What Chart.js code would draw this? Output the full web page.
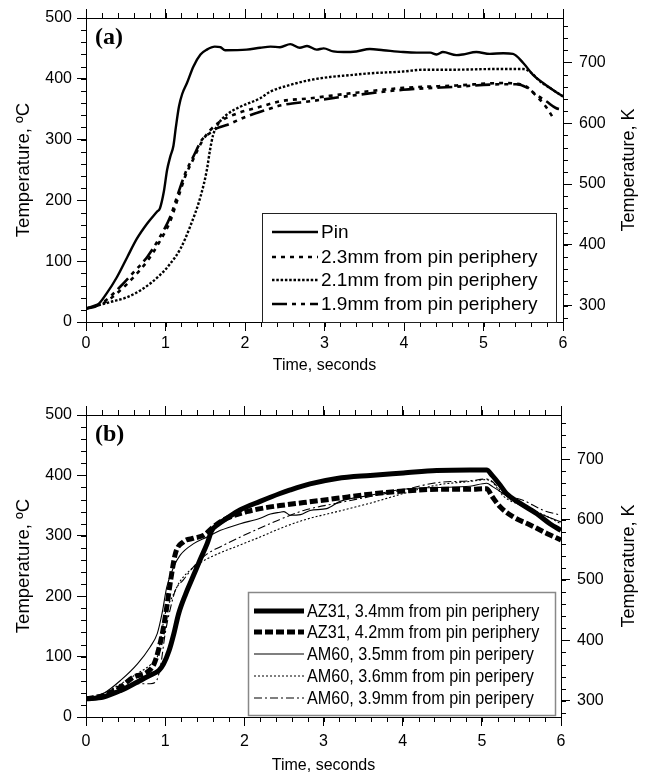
<!DOCTYPE html>
<html><head><meta charset="utf-8">
<script src="https://cdn.jsdelivr.net/npm/chart.js@4.4.1/dist/chart.umd.min.js"></script>
<style>
html,body{margin:0;padding:0;background:#fff;}
#wrap{position:relative;width:646px;height:774px;overflow:hidden;background:#fff;}
canvas{position:absolute;left:0;}
#ca{top:0;width:646px;height:387px;}
#cb{top:387px;width:646px;height:387px;}
</style></head><body>
<div id="wrap"><canvas id="ca" width="646" height="387"></canvas><canvas id="cb" width="646" height="387"></canvas></div>
<script>
// ---------- Panel (a) data: time (s) and temperature (°C) ----------
const tPin = [0, 0.14, 0.26, 0.39, 0.52, 0.64, 0.77, 0.89, 0.93, 0.98, 1.02, 1.06, 1.10, 1.13, 1.17, 1.21, 1.27, 1.35, 1.44, 1.52, 1.62, 1.69, 1.75, 2.02, 2.19, 2.32, 2.44, 2.57, 2.69, 2.78, 2.90, 2.99, 3.11, 3.24, 3.40, 3.57, 3.74, 3.99, 4.16, 4.33, 4.41, 4.49, 4.66, 4.74, 4.91, 5.08, 5.25, 5.37, 5.50, 5.62, 5.75, 5.87, 6.0];
const cPin = [22, 27, 47, 74, 107, 137, 162, 181, 187, 215, 250, 272, 290, 320, 355, 375, 393, 420, 440, 448, 453, 452, 447, 448, 451, 453, 452, 457, 451, 454, 448, 450, 445, 444, 445, 449, 447, 444, 443, 443, 440, 444, 439, 440, 444, 441, 442, 441, 426, 407, 393, 382, 371];

const t23 = [0, 0.22, 0.43, 0.60, 0.77, 0.93, 1.06, 1.16, 1.25, 1.35, 1.46, 1.56, 1.69, 1.90, 2.19, 2.44, 2.82, 3.32, 3.99, 4.66, 5.25, 5.41, 5.54, 5.67, 5.78, 5.88];
const c23 = [22, 31, 52, 74, 100, 133, 166, 205, 240, 268, 297, 315, 330, 343, 354, 363, 368, 376, 385, 389, 393, 392, 387, 371, 355, 335];

const t21 = [0, 0.31, 0.52, 0.72, 0.93, 1.06, 1.19, 1.31, 1.44, 1.52, 1.56, 1.60, 1.67, 1.77, 1.94, 2.19, 2.32, 2.57, 2.82, 3.07, 3.32, 3.57, 3.99, 4.24, 4.66, 5.08, 5.50, 5.58, 5.71, 5.87, 6.0];
const c21 = [22, 33, 41, 55, 77, 96, 121, 157, 206, 250, 283, 308, 327, 341, 354, 368, 379, 390, 398, 403, 406, 409, 412, 415, 415, 416, 416, 412, 396, 382, 371];

const t19 = [0, 0.22, 0.43, 0.60, 0.77, 0.93, 1.06, 1.16, 1.25, 1.35, 1.46, 1.56, 1.65, 1.77, 2.02, 2.27, 2.44, 2.82, 3.32, 3.99, 4.66, 5.25, 5.41, 5.54, 5.66, 5.79, 5.91, 6.0];
const c19 = [22, 33, 58, 82, 107, 140, 173, 212, 245, 272, 300, 311, 319, 324, 338, 349, 356, 363, 372, 382, 387, 391, 391, 386, 374, 363, 352, 349];

// ---------- Panel (b) data ----------
const tA34 = [0, 0.22, 0.44, 0.65, 0.81, 0.92, 0.98, 1.05, 1.11, 1.17, 1.26, 1.36, 1.44, 1.53, 1.59, 1.66, 1.78, 1.95, 2.20, 2.45, 2.58, 2.83, 3.17, 3.59, 4.01, 4.43, 4.85, 5.06, 5.13, 5.23, 5.31, 5.48, 5.69, 5.86, 6.0];
const cA34 = [30, 33, 44, 58, 69, 77, 88, 110, 138, 171, 204, 235, 260, 287, 309, 318, 329, 343, 357, 370, 376, 386, 395, 400, 404, 408, 409, 409, 400, 384, 370, 354, 337, 320, 309];

const tA42 = [0, 0.22, 0.44, 0.60, 0.77, 0.86, 0.92, 0.98, 1.02, 1.07, 1.13, 1.23, 1.36, 1.49, 1.61, 1.78, 2.03, 2.29, 2.45, 2.75, 3.17, 3.59, 4.01, 4.43, 4.85, 5.06, 5.13, 5.23, 5.40, 5.61, 5.82, 6.0];
const cA42 = [30, 36, 50, 66, 74, 88, 113, 149, 182, 227, 271, 290, 296, 301, 315, 329, 340, 347, 350, 355, 362, 369, 374, 377, 377, 378, 365, 348, 331, 318, 304, 293];

const tM35 = [0, 0.22, 0.44, 0.65, 0.81, 0.90, 0.96, 1.02, 1.11, 1.19, 1.36, 1.53, 1.70, 1.95, 2.20, 2.33, 2.45, 2.50, 2.58, 2.71, 2.83, 3.04, 3.21, 3.59, 4.01, 4.43, 4.85, 5.06, 5.14, 5.27, 5.52, 5.78, 6.0];
const cM35 = [30, 39, 61, 88, 116, 138, 171, 215, 249, 268, 287, 298, 309, 320, 329, 336, 339, 340, 334, 335, 342, 345, 357, 367, 377, 380, 382, 387, 381, 370, 348, 334, 323];

const tM36 = [0, 0.22, 0.44, 0.65, 0.81, 0.90, 0.94, 1.00, 1.09, 1.19, 1.36, 1.53, 1.70, 1.95, 2.20, 2.45, 2.75, 3.17, 3.59, 4.01, 4.43, 4.85, 5.06, 5.14, 5.27, 5.52, 5.78, 6.0];
const cM36 = [30, 39, 55, 72, 86, 99, 127, 171, 199, 225, 248, 262, 272, 285, 298, 312, 326, 340, 354, 370, 384, 390, 393, 388, 366, 349, 335, 320];

const tM39 = [0, 0.22, 0.44, 0.65, 0.81, 0.88, 0.94, 1.00, 1.07, 1.13, 1.23, 1.36, 1.53, 1.70, 1.95, 2.20, 2.45, 2.75, 3.17, 3.59, 4.01, 4.43, 4.85, 5.06, 5.14, 5.27, 5.52, 5.78, 6.0];
const cM39 = [30, 36, 50, 55, 55, 58, 83, 138, 182, 210, 227, 249, 270, 282, 298, 313, 327, 342, 354, 365, 376, 388, 391, 394, 389, 370, 359, 342, 334];

// ---------- labels / ticks ----------
const labelsA = ['Pin', '2.3mm from pin periphery', '2.1mm from pin periphery', '1.9mm from pin periphery'];
const labelsB = ['AZ31, 3.4mm from pin periphery', 'AZ31, 4.2mm from pin periphery', 'AM60, 3.5mm from pin peripery', 'AM60, 3.6mm from pin peripery', 'AM60, 3.9mm from pin peripery'];
const kelvinTicks = [300, 400, 500, 600, 700];
const xTitle = 'Time, seconds';
const yTitleLeft = 'Temperature, ºC';
const yTitleRight = 'Temperature, K';

const FONT = '"Liberation Sans", Arial, Helvetica, sans-serif';
const pts = (ts, cs) => ts.map((t, i) => ({x: t, y: cs[i]}));

const minorTicks = {
  id: 'minorTicks',
  afterDraw(chart, args, o) {
    const ctx = chart.ctx;
    ctx.save();
    ctx.strokeStyle = '#000';
    ctx.lineWidth = 1;
    ctx.beginPath();
    for (const id of Object.keys(o.axes || {})) {
      const spec = o.axes[id];
      const s = chart.scales[id];
      if (!s) continue;
      const n = Math.round((spec.to - spec.from) / spec.step);
      for (let i = 0; i <= n; i++) {
        const v = spec.from + i * spec.step;
        const p = Math.round(s.getPixelForValue(v)) + 0.5;
        if (s.isHorizontal()) {
          if (s.position === 'bottom') { ctx.moveTo(p, s.top); ctx.lineTo(p, s.top + o.len); }
          else { ctx.moveTo(p, s.bottom); ctx.lineTo(p, s.bottom - o.len); }
        } else {
          if (s.position === 'left') { ctx.moveTo(s.right, p); ctx.lineTo(s.right - o.len, p); }
          else { ctx.moveTo(s.left, p); ctx.lineTo(s.left + o.len, p); }
        }
      }
    }
    ctx.stroke();
    ctx.restore();
  }
};

const extras = {
  id: 'extras',
  afterDraw(chart, args, o) {
    const ctx = chart.ctx;
    const ca = chart.chartArea;
    ctx.save();
    // legend box
    const L = o.legend;
    ctx.fillStyle = '#fff';
    ctx.fillRect(L.x, L.y, L.w, L.h);
    ctx.strokeStyle = L.border;
    ctx.lineWidth = L.borderWidth;
    ctx.strokeRect(L.x + 0.5, L.y + 0.5, L.w, L.h);
    chart.data.datasets.forEach((ds, i) => {
      const y = L.rows[i];
      ctx.beginPath();
      ctx.setLineDash(ds.borderDash || []);
      ctx.lineWidth = ds.borderWidth;
      ctx.strokeStyle = ds.borderColor;
      ctx.moveTo(L.x0, y);
      ctx.lineTo(L.x1, y);
      ctx.stroke();
      ctx.setLineDash([]);
      ctx.save();
      ctx.translate(L.textX, y);
      ctx.scale(L.sx, 1);
      ctx.fillStyle = '#000';
      ctx.font = L.font;
      ctx.textAlign = 'left';
      ctx.textBaseline = 'middle';
      ctx.fillText(ds.label, 0, 1);
      ctx.restore();
    });
    // panel label
    ctx.fillStyle = '#000';
    ctx.font = 'bold 24px "Liberation Serif", "Times New Roman", serif';
    ctx.textAlign = 'left';
    ctx.textBaseline = 'middle';
    ctx.fillText(o.panel.text, o.panel.x, o.panel.y);
    // right axis title (reads bottom to top)
    ctx.save();
    ctx.translate(o.rightTitleX, (ca.top + ca.bottom) / 2);
    ctx.rotate(-Math.PI / 2);
    ctx.font = '18px ' + FONT;
    ctx.textAlign = 'center';
    ctx.textBaseline = 'middle';
    ctx.fillText(yTitleRight, 0, 0);
    ctx.restore();
    ctx.restore();
  }
};

function build(id, datasets, g) {
  const axisCommon = {
    grid: {drawOnChartArea: false, drawTicks: true, tickLength: 9, color: '#000', lineWidth: 1},
    border: {display: true, color: '#000', width: 1}
  };
  const tickFont = {family: FONT, size: 16};
  return new Chart(document.getElementById(id), {
    type: 'line',
    data: {datasets},
    options: {
      responsive: false, animation: false, devicePixelRatio: 1,
      layout: {padding: 0},
      elements: {point: {radius: 0}, line: {tension: 0, cubicInterpolationMode: 'monotone', fill: false}},
      plugins: {
        legend: {display: false}, tooltip: {enabled: false},
        minorTicks: {len: 5, axes: {
          x: {from: 0, to: 6, step: 0.2}, x2: {from: 0, to: 6, step: 0.2},
          y: {from: 0, to: 500, step: 20}, y2: {from: 280, to: 760, step: 20}}},
        extras: {legend: g.legend, panel: g.panel, rightTitleX: g.rightTitleX}
      },
      scales: {
        x: Object.assign({}, axisCommon, {
          type: 'linear', position: 'bottom', min: 0, max: 6,
          afterFit: s => { s.height = g.bottomH; },
          ticks: {stepSize: 1, padding: g.xPad, color: '#000', font: tickFont, maxRotation: 0},
          title: {display: true, text: xTitle, color: '#000', font: {family: FONT, size: 16, lineHeight: 1}, padding: {top: 0, bottom: g.xTitlePad}}
        }),
        x2: Object.assign({}, axisCommon, {
          type: 'linear', position: 'top', min: 0, max: 6,
          afterFit: s => { s.height = g.topH; },
          ticks: {display: false, stepSize: 1}
        }),
        y: Object.assign({}, axisCommon, {
          type: 'linear', position: 'left', min: 0, max: 500,
          afterFit: s => { s.width = g.leftW; },
          ticks: {stepSize: 100, padding: 5, color: '#000', font: tickFont},
          title: {display: true, text: yTitleLeft, color: '#000', font: {family: FONT, size: 18.5, lineHeight: 1.2}, padding: {top: 12.5, bottom: 0}}
        }),
        y2: Object.assign({}, axisCommon, {
          type: 'linear', position: 'right', min: 273.15, max: 773.15,
          afterFit: s => { s.width = g.rightW; },
          afterBuildTicks: s => { s.ticks = kelvinTicks.map(v => ({value: v})); },
          ticks: {padding: 7, color: '#000', font: tickFont, callback: v => String(v)}
        })
      }
    },
    plugins: [minorTicks, extras]
  });
}

const K = '#000';
build('ca', [
  {label: labelsA[0], data: pts(tPin, cPin), borderColor: K, borderWidth: 2.4},
  {label: labelsA[1], data: pts(t23, c23), borderColor: K, borderWidth: 2.6, borderDash: [4, 5]},
  {label: labelsA[2], data: pts(t21, c21), borderColor: K, borderWidth: 2.4, borderDash: [2.5, 1.8]},
  {label: labelsA[3], data: pts(t19, c19), borderColor: K, borderWidth: 2.6, borderDash: [15, 5, 4, 5, 4, 5]}
], {
  topH: 18, bottomH: 65, leftW: 86, rightW: 83, xPad: 3, xTitlePad: 13, rightTitleX: 629,
  panel: {text: '(a)', x: 95, y: 38},
  legend: {x: 262, y: 213, w: 294, h: 109, border: '#222', borderWidth: 1,
    rows: [232, 257, 280, 304], x0: 272, x1: 318, textX: 321, font: '19px ' + FONT, sx: 1}
});

build('cb', [
  {label: labelsB[0], data: pts(tA34, cA34), borderColor: K, borderWidth: 5},
  {label: labelsB[1], data: pts(tA42, cA42), borderColor: K, borderWidth: 5, borderDash: [8, 3]},
  {label: labelsB[2], data: pts(tM35, cM35), borderColor: K, borderWidth: 1.1},
  {label: labelsB[3], data: pts(tM36, cM36), borderColor: K, borderWidth: 1.1, borderDash: [2, 2]},
  {label: labelsB[4], data: pts(tM39, cM39), borderColor: K, borderWidth: 1.1, borderDash: [8, 3, 2, 3]}
], {
  topH: 28, bottomH: 57, leftW: 86, rightW: 85, xPad: 6, xTitlePad: 0, rightTitleX: 629,
  panel: {text: '(b)', x: 95, y: 48},
  legend: {x: 248, y: 205, w: 307, h: 123, border: '#888', borderWidth: 1.5,
    rows: [224, 245, 267, 289, 311], x0: 254, x1: 304, textX: 307, font: '18px ' + FONT, sx: 0.9}
});
</script>
</body></html>
